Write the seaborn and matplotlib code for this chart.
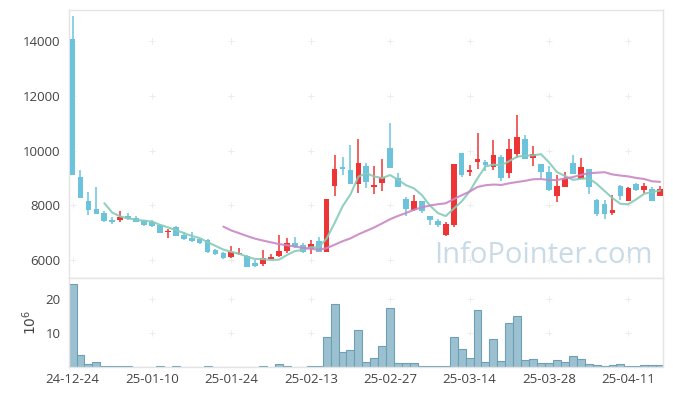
import numpy as np
import pandas as pd
import matplotlib
matplotlib.use("Agg")
import matplotlib.pyplot as plt
import seaborn as sns

# daily prices (trading days only)
opens = [14070, 9020, 8160, 7870, 7720, 7470, 7470, 7610, 7540, 7450,
         7390, 7270, 7010, 7220, 6910, 6800, 6750, 6730, 6380, 6260,
         6120, 6200, 6150, 5900, 5850, 6040, 6150, 6340, 6620, 6540,
         6390, 6700, 6300, 8720, 9400, 9290, 8790, 9440, 8680, 8800,
         10080, 8990, 8230, 7830, 8160, 7610, 7430, 6900, 7290, 9910,
         9220, 9590, 9580, 9380, 9770, 9160, 9890, 10420, 9740, 9510,
         9220, 8320, 8650, 9550, 8970, 9320, 8190, 8040, 7730, 8710,
         8150, 8780, 8570, 8580, 8320]
highs = [14920, 9280, 8480, 8670, 7780, 7570, 7780, 7710, 7610, 7470,
         7460, 7320, 7140, 7250, 7010, 7035, 6780, 6760, 6400, 6290,
         6510, 6430, 6180, 5980, 6380, 6210, 6900, 6800, 6840, 6630,
         6730, 6850, 8230, 9840, 9750, 10190, 10410, 9540, 9440, 9680,
         11000, 9170, 8300, 8390, 8160, 7610, 7490, 7390, 9510, 9910,
         9460, 10640, 9660, 10380, 9830, 10410, 11290, 10560, 10160, 9510,
         9430, 9100, 9210, 9840, 9720, 9320, 8230, 8190, 8360, 8740,
         8660, 8800, 8800, 8650, 8720]
lows = [9100, 8270, 7630, 7670, 7400, 7320, 7390, 7460, 7380, 7250,
        7220, 6970, 6820, 6880, 6730, 6670, 6600, 6270, 6170, 6040,
        6070, 6170, 5740, 5760, 5790, 6020, 6120, 6270, 6440, 6270,
        6220, 6300, 6300, 8330, 9110, 8790, 8440, 8620, 8400, 8530,
        9350, 8650, 7600, 7780, 7710, 7270, 7200, 6890, 7200, 9050,
        9070, 9340, 9250, 9280, 8900, 8990, 9740, 9690, 9420, 9010,
        8530, 8130, 8650, 9150, 8970, 8400, 7620, 7490, 7650, 8190,
        8150, 8520, 8440, 8170, 8320]
closes = [9120, 8280, 7840, 7690, 7440, 7400, 7580, 7510, 7400, 7280,
          7240, 7000, 7040, 6890, 6760, 6695, 6620, 6300, 6200, 6070,
          6290, 6260, 5760, 5790, 6060, 6110, 6330, 6620, 6490, 6300,
          6590, 6300, 8230, 9320, 9340, 8790, 9550, 8840, 8740, 9040,
          9350, 8650, 7880, 8160, 7800, 7470, 7260, 7320, 9510, 9120,
          9290, 9690, 9480, 9840, 9010, 10050, 10490, 9690, 9880, 9220,
          8570, 8700, 9000, 9150, 9400, 8680, 7690, 7690, 7840, 8350,
          8630, 8570, 8710, 8170, 8600]
# volume in millions of shares
volumes = [24.3, 3.5, 0.8, 1.4, 0.2, 0.2, 0.2, 0.2, 0.05, 0.05,
           0.05, 0.2, 0.05, 0.2, 0.05, 0.05, 0.05, 0.2, 0.05, 0.05,
           0.05, 0.05, 0.05, 0.05, 0.2, 0.05, 0.8, 0.2, 0.05, 0.05,
           0.2, 0.2, 8.9, 18.5, 4.4, 5.0, 11.0, 1.4, 2.6, 6.2,
           17.3, 1.1, 1.1, 1.1, 0.2, 0.2, 0.2, 0.2, 8.9, 5.3,
           2.6, 16.7, 1.4, 8.3, 1.7, 13.1, 14.9, 2.0, 2.3, 1.1,
           1.1, 2.0, 1.4, 3.2, 2.3, 0.8, 0.5, 0.2, 0.5, 0.8,
           0.2, 0.2, 0.5, 0.5, 0.5]

tick_labels = ['24-12-24', '25-01-10', '25-01-24', '25-02-13',
               '25-02-27', '25-03-14', '25-03-28', '25-04-11']
price_ticks = [6000, 8000, 10000, 12000, 14000]
vol_ticks = [10, 20]

UP = '#ee3535'
DOWN = '#6cc3dc'
GRID = '#e4e4e4'
TEXT = '#444444'

sns.set_theme(style="white")
plt.rcParams['font.family'] = ['Open Sans', 'DejaVu Sans']

df = pd.DataFrame({'open': opens, 'high': highs, 'low': lows,
                   'close': closes, 'volume': volumes})
df['idx'] = np.arange(len(df))
df['ma5'] = df['close'].rolling(5).mean()
df['ma20'] = df['close'].rolling(20).mean()
colors = np.where(df['close'] >= df['open'], UP, DOWN)

fig = plt.figure(figsize=(6.73, 3.96), dpi=100)
ax = fig.add_axes([0.1025, 0.298, 0.8825, 0.677])
axv = fig.add_axes([0.1025, 0.073, 0.8825, 0.225])

# candles
body_lo = df[['open', 'close']].min(axis=1)
body_h = (df['close'] - df['open']).abs().clip(lower=30)
ax.vlines(df['idx'], df['low'], df['high'], colors=colors, lw=1.1, zorder=2)
ax.bar(df['idx'], body_h, bottom=body_lo, width=0.72, color=colors,
       linewidth=0, zorder=3)

# moving averages
sns.lineplot(data=df.dropna(subset=['ma5']), x='idx', y='ma5', ax=ax,
             color='#86cbb8', lw=1.5, alpha=0.9, zorder=4)
sns.lineplot(data=df.dropna(subset=['ma20']), x='idx', y='ma20', ax=ax,
             color='#c987c4', lw=1.5, alpha=0.9, zorder=4)

# volume
sns.barplot(data=df, x='idx', y='volume', ax=axv, native_scale=True,
            width=1.0, color='#9bc1d1', saturation=1,
            edgecolor='#6e9fb4', linewidth=0.8)

xticks = list(range(0, len(df), 10))[:len(tick_labels)]
for a in (ax, axv):
    a.set_xlim(-0.45, 74.35)
    a.set_xlabel('')
    a.set_ylabel('')
    for s in a.spines.values():
        s.set_color(GRID)
        s.set_linewidth(1)
    a.tick_params(length=0, labelsize=9.5, colors=TEXT, pad=6)

ax.set_ylim(5340, 15140)
ax.set_yticks(price_ticks)
ax.set_yticklabels([str(t) for t in price_ticks])
ax.set_xticks(xticks)
ax.set_xticklabels([])

axv.set_ylim(0, 26.2)
axv.set_yticks(vol_ticks)
axv.set_yticklabels([str(t) for t in vol_ticks])
axv.set_xticks(xticks)
axv.set_xticklabels(tick_labels)
axv.tick_params(axis='x', pad=4)
axv.set_ylabel(r'$10^6$', color=TEXT, fontsize=10, labelpad=4)

# faint "+" marks where grid lines would cross
PLUS = '#ececec'
gx, gy = np.meshgrid(xticks, price_ticks)
ax.scatter(gx.ravel(), gy.ravel(), marker='+', s=14, color=PLUS, lw=0.7, zorder=1)
gx, gy = np.meshgrid(xticks, vol_ticks)
axv.scatter(gx.ravel(), gy.ravel(), marker='+', s=14, color=PLUS, lw=0.7, zorder=0)

ax.text(0.983, 0.03, 'InfoPointer.com', transform=ax.transAxes,
        ha='right', va='bottom', fontsize=21, color='#c9dbe6', zorder=0)

fig.savefig('out.png', dpi=100)
